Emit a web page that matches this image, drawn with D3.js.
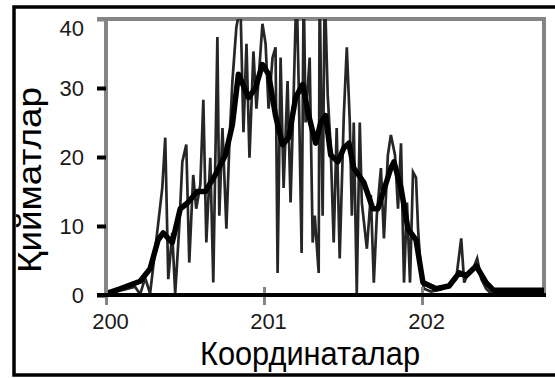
<!DOCTYPE html>
<html>
<head>
<meta charset="utf-8">
<script src="https://cdn.jsdelivr.net/npm/d3@7"></script>
<style>
  body { margin: 0; background: #fff; }
  svg { display: block; }
  text { font-family: "Liberation Sans", Arial, sans-serif; }
</style>
</head>
<body>
<svg id="chart"></svg>
<script>
// raw readings [coordinate, value]
const rawSeries = [
  [200.000, 0.3], [200.057, 0.5], [200.121, 0.8], [200.184, 1.2], [200.216, 0.1],
  [200.248, 2.5], [200.279, 0.2], [200.311, 6.5], [200.356, 15.5], [200.375, 22.8],
  [200.394, 2.3], [200.419, 9], [200.438, 0.2], [200.464, 10], [200.483, 19.3],
  [200.508, 21.8], [200.527, 4.7], [200.552, 17.4], [200.571, 12.5], [200.597, 16],
  [200.616, 28.3], [200.635, 7.6], [200.660, 19.9], [200.679, 1.8], [200.705, 37.4],
  [200.717, 11.5], [200.737, 24.2], [200.762, 9.6], [200.781, 22], [200.800, 31],
  [200.825, 38.8], [200.851, 42], [200.870, 23.6], [200.889, 36.4], [200.908, 19.9],
  [200.933, 35.3], [200.952, 27], [200.971, 33], [200.990, 39.3], [201.010, 36.4],
  [201.029, 27], [201.054, 34.4], [201.073, 35.9], [201.086, 3.2], [201.105, 34.4],
  [201.124, 15.5], [201.149, 31], [201.168, 13.4], [201.187, 28.6], [201.206, 45],
  [201.219, 31], [201.238, 6.1], [201.251, 45], [201.263, 25], [201.289, 34.4],
  [201.308, 7.6], [201.321, 11.5], [201.346, 3.2], [201.352, 45], [201.371, 11.5],
  [201.384, 45], [201.403, 29], [201.422, 21.3], [201.441, 7.6], [201.460, 24.2],
  [201.479, 5.3], [201.505, 26], [201.524, 35.9], [201.543, 25], [201.556, 11.5],
  [201.568, 25], [201.587, 0.3], [201.606, 25], [201.619, 13.4], [201.651, 6.7],
  [201.676, 14.5], [201.695, 1.8], [201.714, 11.5], [201.740, 18.4], [201.759, 8.2],
  [201.784, 20.3], [201.803, 23.2], [201.829, 20.3], [201.848, 12.5], [201.867, 22],
  [201.886, 1.8], [201.905, 13.4], [201.924, 1.8], [201.943, 17.8], [201.962, 17],
  [201.975, 9.6], [201.994, 2.8], [202.013, 0.9], [202.057, 0.5], [202.121, 0.8],
  [202.184, 1.5], [202.216, 2.3], [202.248, 8.2], [202.267, 1.8], [202.292, 3.2],
  [202.324, 3.8], [202.349, 5.3], [202.375, 2.3], [202.406, 0.9], [202.438, 0.2],
  [202.502, 0], [202.772, 0],
]

// smoothed curve [coordinate, value]
const smoothSeries = [
  [200.000, 0.2], [200.089, 0.9], [200.216, 2], [200.279, 3.8], [200.330, 8],
  [200.362, 9], [200.419, 7.6], [200.470, 12.5], [200.514, 13.3], [200.578, 15],
  [200.629, 15], [200.692, 17.4], [200.756, 20.3], [200.800, 24.7], [200.838, 32],
  [200.902, 28.6], [200.946, 30], [200.990, 33.4], [201.029, 32], [201.073, 26],
  [201.117, 21.8], [201.156, 22.8], [201.200, 28.6], [201.244, 30.5], [201.283, 26],
  [201.327, 22], [201.359, 25], [201.390, 26], [201.422, 20.3], [201.467, 19.3],
  [201.505, 21.3], [201.537, 22], [201.568, 18.4], [201.632, 16.3], [201.689, 12.5],
  [201.721, 12.5], [201.803, 18.4], [201.822, 19.3], [201.867, 15.5], [201.911, 9.6],
  [201.962, 8], [202.006, 1.8], [202.089, 0.9], [202.171, 1.3], [202.235, 3.2],
  [202.279, 2.8], [202.343, 4.2], [202.406, 1.8], [202.451, 0.7], [202.772, 0.7],
]

const xTicks = [200, 201, 202]
const yTicks = [0, 10, 20, 30, 40]
const xDomain = [200, 202.772]
const yDomain = [0, 40]
const xTitle = 'Координаталар'
const yTitle = 'Қийматлар'

function chart() {

  const width = 555
  const height = 378

  const svg = d3.select('svg#chart')
    .attr('viewBox', `0 0 ${width} ${height}`)
    .attr('width', width)
    .attr('height', height)

  const margin = ({top: 19, right: 11, bottom: 83, left: 106})

  const x = d3.scaleLinear()
      .domain(xDomain)
      .range([margin.left, width - margin.right])

  const y = d3.scaleLinear()
      .domain(yDomain)
      .range([height - margin.bottom, margin.top])

  const frameGray = '#858585'

  // outer black border (right side runs off the picture)
  svg.append('rect')
      .attr('x', 14).attr('y', 7)
      .attr('width', width + 20).attr('height', 368)
      .attr('fill', 'none')
      .attr('stroke', '#000')
      .attr('stroke-width', 3.5)

  svg.append('clipPath').attr('id', 'plot')
    .append('rect')
      .attr('x', x.range()[0]).attr('y', y(40))
      .attr('width', x.range()[1] - x.range()[0])
      .attr('height', y(0) - y(40))

  // gray frame: left, top, right
  const frame = svg.append('g')
      .attr('stroke', frameGray)
      .attr('stroke-width', 4)
  frame.append('line')
      .attr('x1', x(xDomain[0])).attr('x2', x(xDomain[0]))
      .attr('y1', y(40) - 2).attr('y2', y(0))
  frame.append('line')
      .attr('x1', x(xDomain[0]) - 9).attr('x2', x(xDomain[1]) + 2)
      .attr('y1', y(40)).attr('y2', y(40))
  frame.append('line')
      .attr('x1', x(xDomain[1])).attr('x2', x(xDomain[1]))
      .attr('y1', y(40) - 2).attr('y2', y(0))

  const line = d3.line()
      .x(d => x(d[0]))
      .y(d => y(d[1]))

  svg.append('path')
      .datum(rawSeries)
      .attr('clip-path', 'url(#plot)')
      .attr('fill', 'none')
      .attr('stroke', '#262626')
      .attr('stroke-width', 2.7)
      .attr('d', line)

  svg.append('path')
      .datum(smoothSeries)
      .attr('fill', 'none')
      .attr('stroke', '#000')
      .attr('stroke-width', 5.5)
      .attr('stroke-linejoin', 'round')
      .attr('d', line)

  // y axis: black dashes + labels
  const yAxis = svg.append('g')
      .attr('transform', `translate(${x(xDomain[0])},0)`)
      .call(d3.axisLeft(y).tickValues(yTicks).tickSize(9).tickPadding(13))
  yAxis.select('.domain').remove()
  yAxis.selectAll('.tick line')
      .attr('stroke', d => d == 40 ? frameGray : '#000')
      .attr('stroke-width', 4)
  yAxis.selectAll('.tick text')
      .attr('font-size', 22)
      .attr('fill', '#1a1a1a')
      .attr('font-family', '"Liberation Sans", Arial, sans-serif')
      .attr('dy', d => d == 40 ? '0.75em' : '0.32em')

  // x axis: black base line, gray ticks crossing it
  const xAxis = svg.append('g')
      .attr('transform', `translate(0,${y(0)})`)
      .call(d3.axisBottom(x).tickValues(xTicks).tickSize(10).tickPadding(8).tickFormat(d3.format('d')))
  xAxis.select('.domain').remove()
  xAxis.append('line')
      .attr('x1', x(xDomain[0]) - 9).attr('x2', x(xDomain[1]) + 2)
      .attr('stroke', '#000')
      .attr('stroke-width', 4)
  xAxis.selectAll('.tick line')
      .attr('y1', -8)
      .attr('stroke', frameGray)
      .attr('stroke-width', 3)
  xAxis.selectAll('.tick text')
      .attr('x', 4)
      .attr('font-size', 22)
      .attr('fill', '#1a1a1a')
      .attr('font-family', '"Liberation Sans", Arial, sans-serif')

  svg.append('text')
      .attr('x', 310)
      .attr('y', 365)
      .attr('text-anchor', 'middle')
      .attr('font-size', 34)
      .attr('textLength', 220)
      .attr('lengthAdjust', 'spacingAndGlyphs')
      .text(xTitle)

  svg.append('text')
      .attr('transform', 'translate(41,180) rotate(-90)')
      .attr('text-anchor', 'middle')
      .attr('font-size', 34)
      .attr('textLength', 186)
      .attr('lengthAdjust', 'spacingAndGlyphs')
      .text(yTitle)

  return svg
}

chart()
</script>
</body>
</html>
